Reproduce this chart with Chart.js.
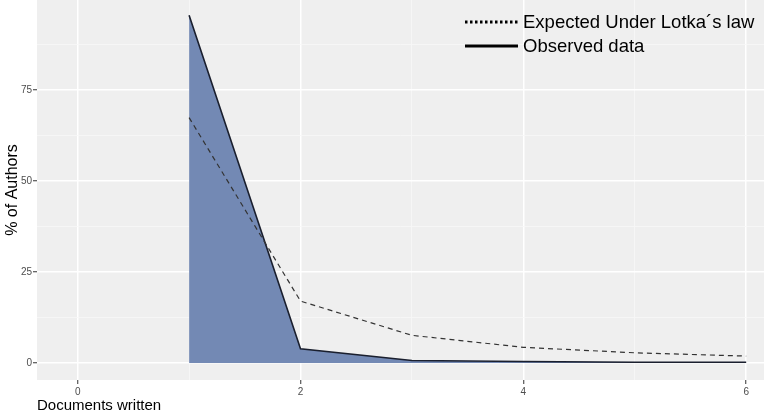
<!DOCTYPE html>
<html>
<head>
<meta charset="utf-8">
<script src="https://cdn.jsdelivr.net/npm/chart.js@4/dist/chart.umd.min.js"></script>
<style>
  html, body { margin: 0; padding: 0; background: #fff; }
  #wrap { width: 764px; height: 417px; }
</style>
</head>
<body>
<div id="wrap"><canvas id="lotka"></canvas></div>
<script>
// documents written per author
const docs = [1, 2, 3, 4, 5, 6];
const observed = [95.5, 3.9, 0.7, 0.4, 0.2, 0.2];
const expected = [67.4, 17.0, 7.6, 4.3, 2.8, 1.9];
const seriesNames = ["Expected Under Lotka\u00b4s law", "Observed data"];

const xTicks = [0, 1, 2, 3, 4, 5, 6];
const xLabels = [0, 2, 4, 6];
const yTicks = [0, 12.5, 25, 37.5, 50, 62.5, 75, 87.5];
const yLabels = [0, 25, 50, 75];

const pts = (ys) => docs.map((d, i) => ({ x: d, y: ys[i] }));
const FONT = '"Liberation Sans", Arial, sans-serif';

const panelBg = {
  id: 'panelBg',
  beforeDraw(chart) {
    const { ctx, chartArea: a } = chart;
    ctx.save();
    ctx.fillStyle = '#efefef';
    ctx.fillRect(a.left, a.top, a.right - a.left, a.bottom - a.top);
    ctx.restore();
  }
};

// ggplot-style legend inside the panel, top right
const insideLegend = {
  id: 'insideLegend',
  afterDraw(chart) {
    const ctx = chart.ctx;
    const rows = [
      { label: chart.data.datasets[0].label, dash: [2.5, 2.5], y: 22 },
      { label: chart.data.datasets[1].label, dash: [], y: 46 }
    ];
    ctx.save();
    ctx.font = '18.5px ' + FONT;
    ctx.textBaseline = 'middle';
    ctx.fillStyle = '#000';
    rows.forEach(r => {
      ctx.beginPath();
      ctx.setLineDash(r.dash);
      ctx.lineWidth = 3;
      ctx.strokeStyle = '#000';
      ctx.moveTo(465, r.y);
      ctx.lineTo(518, r.y);
      ctx.stroke();
      ctx.fillText(r.label, 523, r.y + 1);
    });
    ctx.restore();
  }
};

const isMajor = (list) => (c) => c.tick && list.includes(c.tick.value);

new Chart(document.getElementById('lotka'), {
  type: 'line',
  data: {
    datasets: [
      {
        label: seriesNames[0],
        data: pts(expected),
        borderColor: '#333333',
        borderWidth: 1.2,
        borderDash: [5, 4],
        pointRadius: 0,
        fill: false,
        tension: 0,
        order: 0
      },
      {
        label: seriesNames[1],
        data: pts(observed),
        borderColor: '#1a1f2e',
        borderWidth: 1.6,
        backgroundColor: '#7389b4',
        pointRadius: 0,
        fill: 'origin',
        tension: 0,
        order: 1
      }
    ]
  },
  options: {
    responsive: true,
    maintainAspectRatio: false,
    animation: false,
    layout: { padding: 0 },
    plugins: {
      legend: { display: false },
      tooltip: { enabled: false }
    },
    scales: {
      x: {
        type: 'linear',
        min: -0.365,
        max: 6.16,
        afterBuildTicks: (s) => { s.ticks = xTicks.map(v => ({ value: v })); },
        afterFit: (s) => { s.height = 37; s.paddingLeft = 0; s.paddingRight = 0; },
        border: { display: false },
        grid: {
          color: (c) => isMajor(xLabels)(c) ? '#ffffff' : '#f8f8f8',
          lineWidth: (c) => isMajor(xLabels)(c) ? 1.5 : 0.8,
          tickColor: (c) => isMajor(xLabels)(c) ? '#333333' : 'rgba(0,0,0,0)',
          tickLength: 4,
          tickWidth: 1
        },
        ticks: {
          autoSkip: false,
          maxRotation: 0,
          padding: 2,
          color: '#4d4d4d',
          font: { size: 10, family: FONT },
          callback: (v) => xLabels.includes(v) ? String(v) : ''
        },
        title: {
          display: true,
          text: 'Documents written',
          align: 'start',
          color: '#000',
          font: { size: 15, family: FONT },
          padding: { top: 0, bottom: 2 }
        }
      },
      y: {
        type: 'linear',
        min: -4.67,
        max: 99.7,
        afterBuildTicks: (s) => { s.ticks = yTicks.map(v => ({ value: v })); },
        afterFit: (s) => { s.width = 37; s.paddingTop = 0; s.paddingBottom = 0; },
        border: { display: false },
        grid: {
          color: (c) => isMajor(yLabels)(c) ? '#ffffff' : '#f8f8f8',
          lineWidth: (c) => isMajor(yLabels)(c) ? 1.5 : 0.8,
          tickColor: (c) => isMajor(yLabels)(c) ? '#333333' : 'rgba(0,0,0,0)',
          tickLength: 4,
          tickWidth: 1
        },
        ticks: {
          autoSkip: false,
          padding: 1,
          color: '#4d4d4d',
          font: { size: 10, family: FONT },
          callback: (v) => yLabels.includes(v) ? String(v) : ''
        },
        title: {
          display: true,
          text: '% of Authors',
          color: '#000',
          font: { size: 16, family: FONT },
          padding: { top: 3, bottom: 0 }
        }
      }
    }
  },
  plugins: [panelBg, insideLegend]
});
</script>
</body>
</html>
